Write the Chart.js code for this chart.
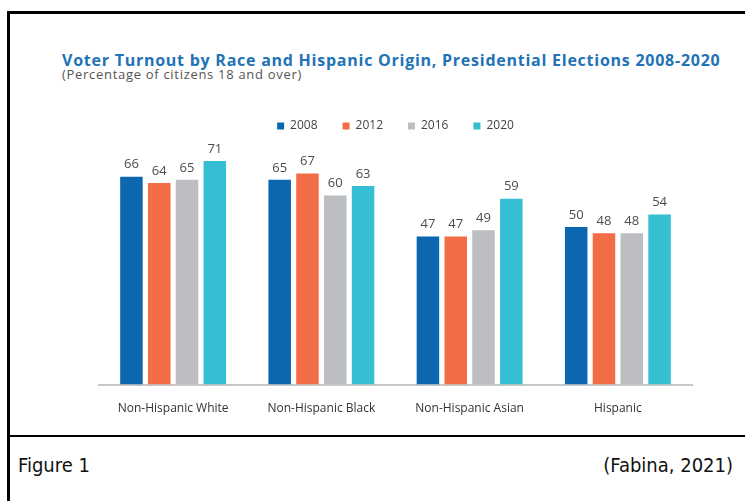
<!DOCTYPE html>
<html>
<head>
<meta charset="utf-8">
<script src="https://cdn.jsdelivr.net/npm/chart.js@4"></script>
<style>
  body { margin: 0; background: #fff; width: 745px; height: 501px; overflow: hidden; position: relative; }
  .frame-top { position: absolute; left: 7px; top: 11px; width: 738px; height: 3px; background: #000; }
  .frame-left { position: absolute; left: 7px; top: 11px; width: 3px; height: 490px; background: #000; }
  .frame-mid { position: absolute; left: 7px; top: 435px; width: 738px; height: 2px; background: #000; }
  .title { position: absolute; left: 62px; top: 49px; font: 700 16px "Open Sans", sans-serif; letter-spacing: 0.75px; color: #2272b6; white-space: nowrap; }
  .subtitle { position: absolute; left: 62px; top: 65px; font: 13px "Open Sans", sans-serif; letter-spacing: 0.7px; color: #555; white-space: nowrap; }
  .caption { position: absolute; top: 453px; font: 20px "Liberation Sans Narrow", "DejaVu Sans Condensed", sans-serif; color: #111; }
  #wrap { position: absolute; left: 10px; top: 14px; width: 735px; height: 421px; }
</style>
</head>
<body>
<div class="frame-top"></div>
<div class="frame-left"></div>
<div class="frame-mid"></div>
<div class="title">Voter Turnout by Race and Hispanic Origin, Presidential Elections 2008-2020</div>
<div class="subtitle">(Percentage of citizens 18 and over)</div>
<div class="caption" style="left:18px">Figure 1</div>
<div class="caption" style="right:12px">(Fabina, 2021)</div>
<div id="wrap"><canvas id="turnoutChart"></canvas></div>
<script>
const categories = ['Non-Hispanic White', 'Non-Hispanic Black', 'Non-Hispanic Asian', 'Hispanic'];
const years = ['2008', '2012', '2016', '2020'];
const turnout2008 = [66, 65, 47, 50];
const turnout2012 = [64, 67, 47, 48];
const turnout2016 = [65, 60, 49, 48];
const turnout2020 = [71, 63, 59, 54];
const colors = ['#0a67b0', '#f26d45', '#bdbec1', '#34bfd3'];

const seriesValues = [turnout2008, turnout2012, turnout2016, turnout2020];

// numbers above each bar
const barLabels = {
  id: 'barLabels',
  afterDatasetsDraw(chart) {
    const ctx = chart.ctx;
    ctx.save();
    ctx.font = '13px "Open Sans", sans-serif';
    ctx.fillStyle = '#4d4d4d';
    ctx.textAlign = 'center';
    ctx.textBaseline = 'middle';
    chart.data.datasets.forEach((ds, i) => {
      chart.getDatasetMeta(i).data.forEach((bar, j) => {
        ctx.fillText(ds.data[j], bar.x, bar.y - 12);
      });
    });
    ctx.restore();
  }
};

const ctx = document.getElementById('turnoutChart').getContext('2d');

new Chart(ctx, {
  type: 'bar',
  data: {
    labels: categories,
    datasets: years.map((y, i) => ({
      label: y,
      data: seriesValues[i],
      backgroundColor: colors[i],
      borderWidth: 0,
      categoryPercentage: 0.75,
      barPercentage: 0.81
    }))
  },
  plugins: [barLabels],
  options: {
    responsive: true,
    maintainAspectRatio: false,
    animation: false,
    layout: {
      padding: { left: 89, right: 53, top: 81, bottom: 10 }
    },
    plugins: {
      legend: {
        labels: {
          boxWidth: 7,
          boxHeight: 7,
          padding: 25,
          color: '#444',
          font: { size: 12, family: '"Open Sans", sans-serif' }
        }
      },
      tooltip: { enabled: false }
    },
    scales: {
      y: {
        display: false,
        min: 0,
        max: 77
      },
      x: {
        grid: { display: false },
        border: { color: '#c8c8c8', width: 2 },
        ticks: {
          color: '#333',
          padding: 9,
          font: { size: 12, family: '"Open Sans", sans-serif' }
        }
      }
    }
  }
});
</script>
</body>
</html>
